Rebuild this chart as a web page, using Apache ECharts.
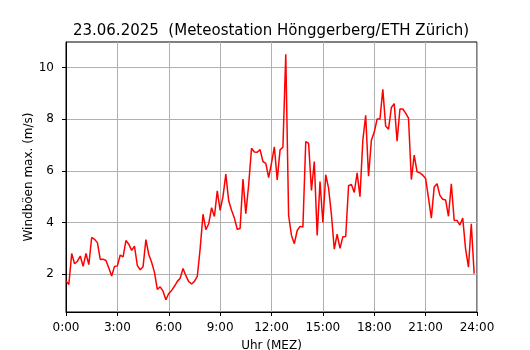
<!DOCTYPE html>
<html>
<head>
<meta charset="utf-8">
<script src="https://cdn.jsdelivr.net/npm/echarts@6/dist/echarts.min.js"></script>
<style>
  html, body { margin: 0; padding: 0; background: #fff; }
  #chart { width: 530px; height: 350px; }
</style>
</head>
<body>
<div id="chart"></div>
<script>
// Windböen max. (m/s), 10-Minuten-Werte ab 0:00
const gusts = [
  1.74, 1.6, 2.8, 2.4, 2.5, 2.7, 2.3, 2.8, 2.37, 3.42, 3.35, 3.22,
  2.57, 2.58, 2.53, 2.24, 1.93, 2.3, 2.32, 2.74, 2.67, 3.3, 3.16, 2.92,
  3.08, 2.33, 2.17, 2.29, 3.34, 2.76, 2.46, 2.07, 1.41, 1.51, 1.34, 1.01,
  1.25, 1.37, 1.53, 1.72, 1.84, 2.22, 1.94, 1.71, 1.62, 1.72, 1.91, 2.98,
  4.32, 3.72, 3.95, 4.57, 4.23, 5.22, 4.47, 5.0, 5.87, 4.84, 4.47, 4.17,
  3.74, 3.77, 5.68, 4.34, 5.46, 6.87, 6.73, 6.72, 6.82, 6.36, 6.29, 5.74,
  6.3, 6.93, 5.65, 6.81, 6.91, 10.51, 4.27, 3.5, 3.18, 3.69, 3.85, 3.82,
  7.13, 7.06, 5.24, 6.36, 3.5, 5.58, 4.0, 5.85, 5.33, 4.3, 2.97, 3.55,
  3.0, 3.45, 3.46, 5.42, 5.47, 5.16, 5.92, 5.0, 7.18, 8.15, 5.79, 7.18,
  7.5, 8.0, 8.0, 9.15, 7.73, 7.61, 8.45, 8.6, 7.15, 8.39, 8.39, 8.23,
  8.04, 5.66, 6.61, 5.96, 5.92, 5.83, 5.7, 4.95, 4.17, 5.37, 5.5, 5.05,
  4.9, 4.87, 4.24, 5.5, 4.09, 4.08, 3.9, 4.17, 2.98, 2.27, 3.95, 2.02
];
const stepMinutes = 10;
const yTicks = [2, 4, 6, 8, 10];
const xTickHours = [0, 3, 6, 9, 12, 15, 18, 21, 24];

const font = 'DejaVu Sans';
const points = gusts.map((v, i) => [i * stepMinutes, v]);

const chart = echarts.init(document.getElementById('chart'));
chart.setOption({
  animation: false,
  title: {
    text: '23.06.2025  (Meteostation Hönggerberg/ETH Zürich)',
    left: 266,
    textAlign: 'center',
    top: 19,
    textStyle: { fontFamily: font, fontSize: 15, fontWeight: 'normal', color: '#000' }
  },
  grid: {
    left: 66, right: 53, top: 42, bottom: 38,
    outerBoundsMode: 'none',
    containLabel: false,
    show: true, borderColor: '#000', borderWidth: 1, backgroundColor: '#fff'
  },
  xAxis: {
    type: 'value',
    min: 0, max: 1440, interval: 180,
    name: 'Uhr (MEZ)',
    nameLocation: 'middle',
    nameGap: 28,
    nameMoveOverlap: false,
    nameTextStyle: { fontFamily: font, fontSize: 12, color: '#000' },
    axisLine: { lineStyle: { color: '#000', width: 1 } },
    axisTick: { show: true, inside: false, length: 4, lineStyle: { color: '#000' },
      customValues: xTickHours.map(h => h * 60) },
    axisLabel: {
      fontFamily: font, fontSize: 12, color: '#000', margin: 10,
      customValues: xTickHours.map(h => h * 60),
      formatter: v => Math.round(v / 60) + ':00'
    },
    splitLine: { show: true, lineStyle: { color: '#b0b0b0', width: 1 } }
  },
  yAxis: {
    type: 'value',
    min: 0.535, max: 10.985,
    name: 'Windböen max. (m/s)',
    nameLocation: 'middle',
    nameGap: 31,
    nameMoveOverlap: false,
    nameTextStyle: { fontFamily: font, fontSize: 12, color: '#000' },
    axisLine: { show: true, lineStyle: { color: '#000', width: 1 } },
    axisTick: { show: true, inside: false, length: 4, lineStyle: { color: '#000' },
      customValues: yTicks },
    axisLabel: { fontFamily: font, fontSize: 12, color: '#000', margin: 12,
      customValues: yTicks },
    splitLine: { show: true, lineStyle: { color: '#b0b0b0', width: 1 } }
  },
  series: [{
    type: 'line',
    data: points,
    showSymbol: false,
    lineStyle: { color: '#ff0000', width: 1.5 },
    itemStyle: { color: '#ff0000' }
  }]
});
</script>
</body>
</html>
